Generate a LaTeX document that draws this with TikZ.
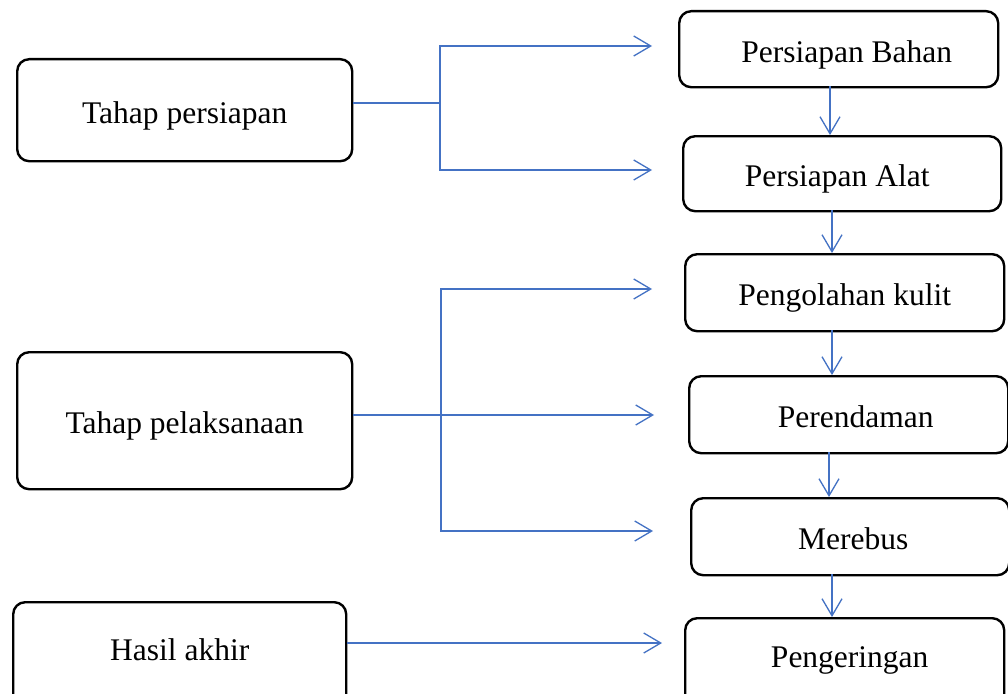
\documentclass[tikz,border=0pt]{standalone}
\usepackage{fontspec}
\setmainfont{Liberation Serif}
\usetikzlibrary{arrows.meta}
\definecolor{lineblue}{HTML}{4472C4}
\tikzset{
  box/.style={draw=black, line width=2.4pt, rounded corners=12pt, rectangle,
    inner sep=0pt, anchor=north west, font=\fontsize{31.5}{36}\selectfont,
    text height=33pt, text depth=7pt},
  conn/.style={draw=lineblue, line width=1.3pt},
  arr/.style={conn, -{Straight Barb[length=17pt,width=20pt,line width=1.3pt]}}
}
\begin{document}
\begin{tikzpicture}[x=1pt,y=-1pt]
\clip (0,0) rectangle (1008,693);
\fill[white] (0,0) rectangle (1008,693);
% left boxes
\node[box, minimum width=335pt, minimum height=102pt] (tp) at (16,58) {Tahap persiapan};
\node[box, minimum width=335pt, minimum height=137pt] (tl) at (16,351) {Tahap pelaksanaan};
\node[box, minimum width=333pt, minimum height=120pt, text height=21.5pt, text depth=25pt] (ha) at (12,601) {Hasil akhir};
% right boxes
\node[box, minimum width=319pt, minimum height=76pt] (pb) at (678,10) {\hspace*{16pt}Persiapan Bahan};
\node[box, minimum width=318pt, minimum height=75pt] (pa) at (682,135) {Persiapan Alat\hspace*{10pt}};
\node[box, minimum width=319pt, minimum height=77pt] (pk) at (684,253) {Pengolahan kulit};
\node[box, minimum width=319pt, minimum height=77pt] (pr) at (688,375) {\hspace*{14pt}Perendaman};
\node[box, minimum width=318pt, minimum height=77pt] (mr) at (690,497) {\hspace*{6pt}Merebus};
\node[box, minimum width=319pt, minimum height=120pt, text height=21.5pt, text depth=43pt] (pg) at (684,617) {\hspace*{10pt}Pengeringan};
% coordinates
\coordinate (j1) at (440,103);
\coordinate (e1) at (652,46);
\coordinate (e2) at (652,170);
\coordinate (j2) at (441,415);
\coordinate (e3) at (652,289);
\coordinate (e4) at (654,415);
\coordinate (e5) at (653,531);
\coordinate (e6) at (662,643);
% tahap persiapan connectors
\draw[conn] (tp.east |- j1) -- (j1);
\draw[arr] (j1) |- (e1);
\draw[arr] (j1) |- (e2);
% tahap pelaksanaan connectors
\draw[arr] (tl.east |- j2) -- (e4);
\draw[arr] (j2) |- (e3);
\draw[arr] (j2) |- (e5);
% hasil akhir
\draw[arr] (ha.east |- e6) -- (e6);
% vertical chain
\draw[arr] (830,86) -- (830,135);
\draw[arr] (832,210) -- (832,253);
\draw[arr] (832,330) -- (832,375);
\draw[arr] (829,452) -- (829,497);
\draw[arr] (832,574) -- (832,617);
\end{tikzpicture}
\end{document}
